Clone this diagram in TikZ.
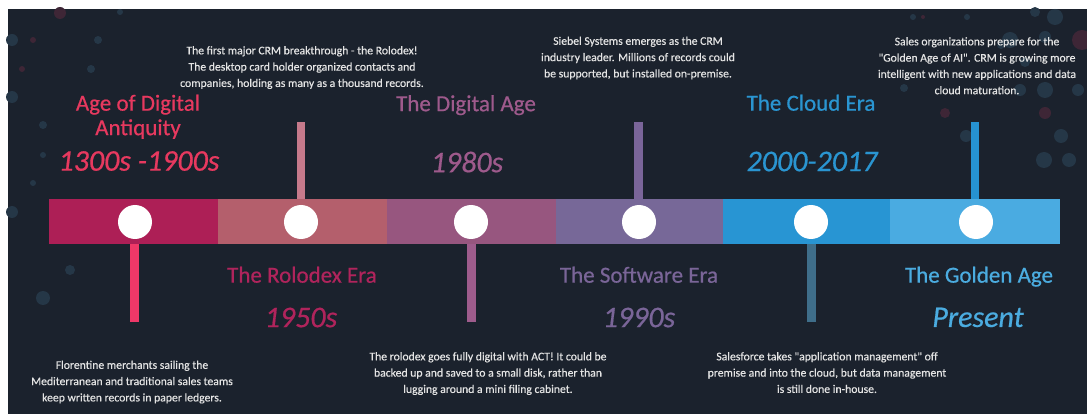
\documentclass[tikz,border=0pt]{standalone}
\usepackage{fontspec}
\setmainfont{Carlito}
\newfontfamily\ttlfont{Carlito}[FakeBold=0.6]
\newfontfamily\dscfont{Carlito}[FakeBold=0.4]
\definecolor{bg}{HTML}{1B222D}
\definecolor{segA}{HTML}{AD1F56}
\definecolor{segB}{HTML}{B45F6C}
\definecolor{segC}{HTML}{97567F}
\definecolor{segD}{HTML}{776898}
\definecolor{segE}{HTML}{2895D3}
\definecolor{segF}{HTML}{4AABE1}
\definecolor{stemA}{HTML}{EE3868}
\definecolor{stemB}{HTML}{C67A8B}
\definecolor{stemC}{HTML}{9E5C8C}
\definecolor{stemD}{HTML}{7A6599}
\definecolor{stemE}{HTML}{3F6E8A}
\definecolor{stemF}{HTML}{2692D1}
\definecolor{ttlA}{HTML}{E7395F}
\definecolor{ttlB}{HTML}{B0245C}
\definecolor{ttlC}{HTML}{9E5A8C}
\definecolor{ttlD}{HTML}{7A6598}
\definecolor{ttlE}{HTML}{2A95D1}
\definecolor{ttlF}{HTML}{4BACE0}
\definecolor{desc}{HTML}{E4E4E4}
\definecolor{bubB}{HTML}{253747}
\definecolor{bubR}{HTML}{3E2636}
\begin{document}
\begin{tikzpicture}[x=1pt,y=-1pt,
  segbox/.style={inner sep=0, outer sep=0, minimum height=45pt},
  dot/.style={circle, fill=white, minimum size=34pt, inner sep=0},
  stem/.style={line width=8.5pt},
  title/.style={anchor=north, inner sep=0, font=\ttlfont\fontsize{23}{24.5}\selectfont, align=center},
  year/.style={anchor=north, inner sep=0, font=\ttlfont\fontsize{30}{32}\selectfont\itshape},
  descr/.style={anchor=north, inner sep=0, align=center, text=desc, font=\dscfont\fontsize{11.7}{16.3}\selectfont}]
\useasboundingbox (0,0) rectangle (1087,414);
\fill[bg] (8,9) rectangle (1087,414);
% background bubbles
\foreach \bx/\by/\br/\bc in {60/13/6/bubR, 12/40/6/bubB, 33/40/3/bubR, 22/69/3/bubR, 91/69/4/bubB,
  98/40/4/bubB, 43/125/4/bubB, 12/97/6/bubB, 43/155/3/bubB, 33/183/3/bubB, 12/212/6/bubB,
  90/212/4/bubR, 70/270/5/bubB, 43/298/7/bubB, 118/240/4/bubR, 120/12/3/bubB,
  1055/17/8/bubB, 1035/12/5/bubB, 1082/40/10/bubR, 1045/37/6/bubB, 1010/40/8/bubB,
  1020/90/6/bubB, 1045/90/8/bubB, 1078/90/6/bubB, 904/88/4/bubB, 1045/113/6/bubR,
  945/113/5/bubR, 966/136/6/bubB, 1061/136/7/bubB, 1044/160/8/bubB, 1069/160/7/bubB,
  913/17/3/bubB, 967/17/3/bubB, 923/17/2/bubR, 1025/62/5/bubB, 1001/45/4/bubB}
  \fill[\bc] (\bx,\by) circle[radius=\br];
% bar segments
\node[segbox, fill=segA, minimum width=169pt] (s1) at (133.5,221.5) {};
\node[segbox, fill=segB, minimum width=169pt] (s2) at (302.5,221.5) {};
\node[segbox, fill=segC, minimum width=169pt] (s3) at (471.5,221.5) {};
\node[segbox, fill=segD, minimum width=167pt] (s4) at (639.5,221.5) {};
\node[segbox, fill=segE, minimum width=167pt] (s5) at (806.5,221.5) {};
\node[segbox, fill=segF, minimum width=170pt] (s6) at (975,221.5) {};
% dots
\node[dot] (d1) at (135,222) {};
\node[dot] (d2) at (301,222) {};
\node[dot] (d3) at (471,222) {};
\node[dot] (d4) at (639,222) {};
\node[dot] (d5) at (811,222) {};
\node[dot] (d6) at (976,222) {};
% stems
\coordinate (e1) at (134.5,322);
\coordinate (e2) at (301,122);
\coordinate (e3) at (471.5,322);
\coordinate (e4) at (638.5,122);
\coordinate (e5) at (811.5,322);
\coordinate (e6) at (975,122);
\draw[stem, stemA] (e1 |- s1.south) -- (e1);
\draw[stem, stemB] (e2 |- s2.north) -- (e2);
\draw[stem, stemC] (e3 |- s3.south) -- (e3);
\draw[stem, stemD] (e4 |- s4.north) -- (e4);
\draw[stem, stemE] (e5 |- s5.south) -- (e5);
\draw[stem, stemF] (e6 |- s6.north) -- (e6);
% titles and years
\node[title, text=ttlA] (t1) at (138,94.5) {Age of Digital\\Antiquity};
\node[year, text=ttlA] (y1) at (139,151) {1300s -1900s};
\node[title, text=ttlB] (t2) at (302,266.5) {The Rolodex Era};
\node[year, text=ttlB] (y2) at (301,307.5) {1950s};
\node[title, text=ttlC] (t3) at (466,95) {The Digital Age};
\node[year, text=ttlC] (y3) at (467,151.5) {1980s};
\node[title, text=ttlD] (t4) at (639,266.5) {The Software Era};
\node[year, text=ttlD] (y4) at (639,307.5) {1990s};
\node[title, text=ttlE] (t5) at (811,94.5) {The Cloud Era};
\node[year, text=ttlE] (y5) at (812,151.5) {2000-2017};
\node[title, text=ttlF] (t6) at (979,266.5) {The Golden Age};
\node[year, text=ttlF] (y6) at (978,307.5) {Present};
% descriptions
\node[descr] (x2) at (302,46) {The first major CRM breakthrough - the Rolodex!\\The desktop card holder organized contacts and\\companies, holding as many as a thousand records.};
\node[descr] (x4) at (638,36.5) {Siebel Systems emerges as the CRM\\industry leader. Millions of records could\\be supported, but installed on-premise.};
\node[descr] (x6) at (977,37) {Sales organizations prepare for the\\"Golden Age of AI". CRM is growing more\\intelligent with new applications and data\\cloud maturation.};
\node[descr] (x1) at (132,360.5) {Florentine merchants sailing the\\Mediterranean and traditional sales teams\\keep written records in paper ledgers.};
\node[descr] (x3) at (488,352) {The rolodex goes fully digital with ACT! It could be\\backed up and saved to a small disk, rather than\\lugging around a mini filing cabinet.};
\node[descr] (x5) at (827,352) {Salesforce takes "application management" off\\premise and into the cloud, but data management\\is still done in-house.};
\end{tikzpicture}
\end{document}
